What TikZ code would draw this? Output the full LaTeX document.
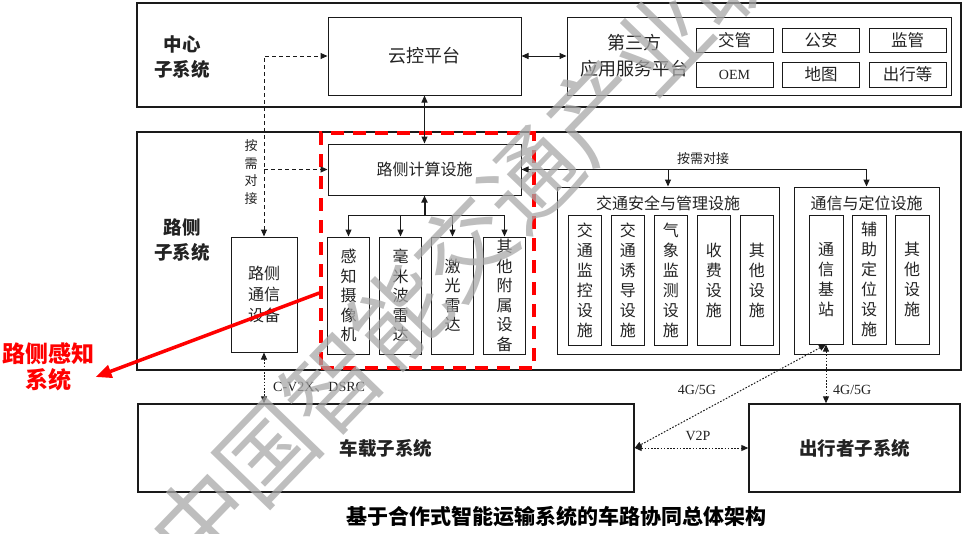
\documentclass[tikz,border=0pt]{standalone}
\usepackage{fontspec}
\setmainfont{Noto Sans CJK SC}
\newfontfamily\latinfont{Liberation Serif}
\usetikzlibrary{arrows.meta,positioning}
\definecolor{framegrey}{HTML}{1A1A1A}
\definecolor{textdark}{HTML}{222222}
\definecolor{markred}{HTML}{FF0000}
\definecolor{watergrey}{HTML}{A8A8A8}

\begin{document}
\begin{tikzpicture}[
  x=1pt, y=-1pt,
  frame/.style={rectangle, draw=framegrey, line width=1.8pt, inner sep=0pt},
  box/.style={rectangle, draw=framegrey, line width=1pt, inner sep=0pt, align=center, text=textdark, font=\fontsize{16}{20}\selectfont},
  tagbox/.style={box, minimum width=77pt, font=\fontsize{16.5}{20}\selectfont},
  sensor/.style={box, minimum width=41.5pt, minimum height=117pt, font=\fontsize{16}{19.5}\selectfont},
  vbox/.style={box, minimum height=130pt},
  syslabel/.style={align=center, text=textdark, font=\fontsize{18.5}{25}\selectfont\bfseries},
  smalllabel/.style={align=center, text=textdark, inner sep=1pt, font=\fontsize{13}{17.5}\selectfont},
  latinlabel/.style={text=textdark, inner sep=1pt, font=\fontsize{14}{16}\selectfont\latinfont},
  arrow/.style={-{Triangle[length=7pt,width=6pt]}, line width=1pt, draw=framegrey},
  twoway/.style={arrow, {Triangle[length=7pt,width=6pt]}-{Triangle[length=7pt,width=6pt]}},
  thickarrow/.style={arrow, line width=2pt},
  dasharrow/.style={arrow, dash pattern=on 4pt off 3pt},
  dotarrow/.style={twoway, dash pattern=on 1.6pt off 1.6pt},
  redarrow/.style={-{Triangle[length=16pt,width=13pt]}, line width=3.5pt, draw=markred},
  node distance=8.5pt
]
\useasboundingbox (0,0) rectangle (964,533);

% subsystem frames
\node[frame, minimum width=824pt, minimum height=104pt] (center) at (549,55) {};
\node[frame, minimum width=824pt, minimum height=238pt] (roadside) at (549,251) {};
\node[syslabel] (centerlabel) at (182,57) {中心\\子系统};
\node[syslabel] (roadlabel) at (182,240) {路侧\\子系统};

% center subsystem
\node[box, minimum width=193pt, minimum height=78pt, font=\fontsize{18}{22}\selectfont] (yunkong) at (424.5,56) {云控平台};
\node[box, minimum width=384pt, minimum height=78pt] (disanfang) at (759,56) {};
\node[align=center, text=textdark, font=\fontsize{18}{26}\selectfont] (disanfangtext) at (634,56) {第三方\\应用服务平台};
\node[tagbox, minimum height=24pt] (jiaoguan) at (734.5,40) {交管};
\node[tagbox, minimum height=24pt, right=of jiaoguan] (gongan) {公安};
\node[tagbox, minimum height=24pt, right=of gongan] (jianguan) {监管};
\node[tagbox, minimum height=25pt, font=\fontsize{14}{16}\selectfont\latinfont] (oem) at (734.5,74.5) {OEM};
\node[tagbox, minimum height=25pt, right=of oem] (ditu) {地图};
\node[tagbox, minimum height=25pt, right=of ditu] (chuxingdeng) {出行等};

% roadside subsystem
\node[box, minimum width=193pt, minimum height=51pt] (jisuan) at (424.5,169.5) {路侧计算设施};
\node[box, minimum width=66pt, minimum height=115pt, font=\fontsize{16}{21}\selectfont] (tongxin) at (264,294.5) {路侧\\通信\\设备};
\node[sensor] (camera) at (348.5,295.5) {感\\知\\摄\\像\\机};
\node[sensor, right=9.5pt of camera] (radar) {毫\\米\\波\\雷\\达};
\node[sensor, right=9.5pt of radar] (lidar) {激\\光\\雷\\达};
\node[sensor, right=9.5pt of lidar] (attach) {其\\他\\附\\属\\设\\备};
\node[rectangle, draw=markred, line width=3.5pt, dash pattern=on 13pt off 9pt, minimum width=213pt, minimum height=235pt] (ganzhi) at (427.5,250.5) {};

\node[box, minimum width=222pt, minimum height=167pt] (jiaotong) at (668,270.5) {};
\node[text=textdark, font=\fontsize{16}{20}\selectfont] (jiaotongtitle) at (668,203) {交通安全与管理设施};
\node[vbox, minimum width=33.5pt] (jiankong) at (584.75,280) {交\\通\\监\\控\\设\\施};
\node[vbox, minimum width=33.5pt, right=of jiankong] (youdao) {交\\通\\诱\\导\\设\\施};
\node[vbox, minimum width=33.5pt, right=of youdao] (qixiang) {气\\象\\监\\测\\设\\施};
\node[vbox, minimum width=33.5pt, right=of qixiang] (shoufei) {收\\费\\设\\施};
\node[vbox, minimum width=33.5pt, right=of shoufei] (qita) {其\\他\\设\\施};

\node[box, minimum width=145pt, minimum height=167pt] (dingwei) at (866.5,270.5) {};
\node[text=textdark, font=\fontsize{16}{20}\selectfont] (dingweititle) at (866.5,203) {通信与定位设施};
\node[vbox, minimum width=34pt, minimum height=129pt] (jizhan) at (826,279.5) {通\\信\\基\\站};
\node[vbox, minimum width=34pt, minimum height=129pt, right=8pt of jizhan] (fuzhu) {辅\\助\\定\\位\\设\\施};
\node[vbox, minimum width=34pt, minimum height=129pt, right=8pt of fuzhu] (qitadw) {其\\他\\设\\施};

% vehicle and traveller subsystems
\node[box, line width=1.4pt, minimum width=496pt, minimum height=88pt, font=\fontsize{18.5}{22}\selectfont\bfseries] (chezai) at (386,448) {车载子系统};
\node[box, line width=1.4pt, minimum width=211pt, minimum height=88pt, font=\fontsize{18.5}{22}\selectfont\bfseries] (chuxing) at (854.5,448) {出行者子系统};

% connectors
\draw[twoway] (yunkong) -- (disanfang);
\draw[twoway] (yunkong) -- (jisuan);
\draw[dasharrow, {Triangle[length=7pt,width=6pt]}-{Triangle[length=7pt,width=6pt]}] (tongxin.north) |- (yunkong.west);
\draw[dasharrow] (tongxin.north |- jisuan.west) -- (jisuan.west);
\node[smalllabel] (needleft) at (251,172) {按\\需\\对\\接};

\coordinate (bus) at (424.5,215);
\draw[thickarrow] (bus) -- (jisuan.south);
\foreach \s in {camera,radar,lidar,attach}
  \draw[arrow] (bus) -| (\s.north);

\draw[twoway] (jisuan.east) -| (dingwei.north);
\draw[arrow] (jiaotong.north |- jisuan.east) -- (jiaotong.north);
\node[smalllabel] (needright) at (703,159) {按需对接};

\draw[dotarrow] (tongxin.south) -- (tongxin.south |- chezai.north);
\node[latinlabel, anchor=west] (cv2x) at (272,387) {C-V2X{\fontspec{Noto Sans CJK SC}、}DSRC};
\draw[dotarrow] (jizhan.south) -- (jizhan.south |- chuxing.north);
\node[latinlabel, anchor=west] (g5right) at (832,390) {4G/5G};
\draw[dotarrow] (jizhan.south) -- (chezai.east);
\node[latinlabel] (g5left) at (697,390) {4G/5G};
\draw[dotarrow] (chezai.east) -- (chuxing.west);
\node[latinlabel] (v2p) at (698,436) {V2P};

% roadside perception callout
\node[align=center, text=markred, font=\fontsize{23}{26}\selectfont\bfseries] (ganzhilabel) at (48,367) {路侧感知\\系统};
\draw[redarrow] ([yshift=-42.5pt]ganzhi.west) -- ([xshift=-2pt,yshift=-10pt]ganzhilabel.east);

\node[font=\fontsize{21}{24}\selectfont\bfseries] (caption) at (556,517) {基于合作式智能运输系统的车路协同总体架构};

% watermark
\node[rotate=46, text=watergrey, opacity=0.75, font=\fontsize{95}{95}\selectfont] (watermark) at (497,213) {中国智能交通产业联盟};

\end{tikzpicture}
\end{document}
